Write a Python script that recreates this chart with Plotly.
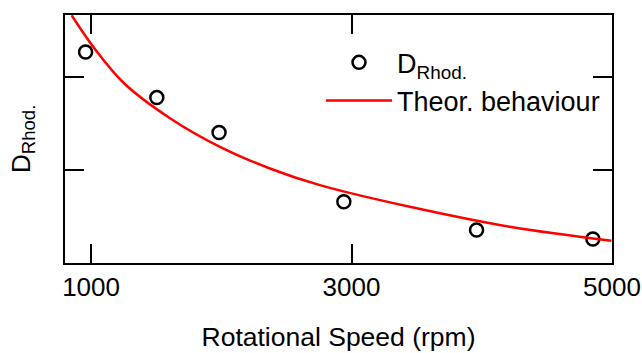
import plotly.graph_objects as go

# Measured data (rotational speed in rpm, D_Rhod. in arbitrary units)
speed_meas = [958, 1505, 1983, 2941, 3960, 4853]
d_meas = [2.265, 1.776, 1.401, 0.657, 0.354, 0.257]

# Theoretical behaviour curve
speed_theo = [851, 1023, 1253, 1606, 1990, 2373, 2757, 3448, 4215, 4996]
d_theo = [2.66, 2.31, 1.93, 1.555, 1.247, 1.015, 0.836, 0.603, 0.389, 0.239]

x_ticks = [1000, 3000, 5000]
x_ticklabels = ["1000", "3000", "5000"]
y_ticks = [0, 1, 2]

FONT = "Liberation Sans, Arial, sans-serif"

fig = go.Figure()
fig.add_trace(go.Scatter(
    x=speed_meas, y=d_meas, mode="markers", name="D<sub>Rhod.</sub>",
    marker=dict(symbol="circle-open", size=13, color="black",
                line=dict(width=2.5, color="black")),
))
fig.add_trace(go.Scatter(
    x=speed_theo, y=d_theo, mode="lines", name="Theor. behaviour",
    line=dict(color="#ff0000", width=2.5, shape="spline", smoothing=1),
))

fig.update_layout(
    width=642, height=353,
    margin=dict(l=65, r=30, t=15, b=90),
    paper_bgcolor="white", plot_bgcolor="white",
    font=dict(family=FONT, size=26, color="black"),
    showlegend=True,
    legend=dict(x=0.468, y=0.906, xanchor="left", yanchor="top",
                bgcolor="rgba(0,0,0,0)", font=dict(size=27),
                itemwidth=66, tracegroupgap=0),
)
fig.update_xaxes(
    range=[800, 5000], tickvals=x_ticks, ticktext=x_ticklabels,
    ticks="inside", ticklen=19, tickwidth=2, tickcolor="black",
    showline=True, linewidth=2, linecolor="black", mirror="allticks",
    showgrid=False, zeroline=False, automargin=False,
    title=dict(text="Rotational Speed (rpm)", standoff=26, font=dict(size=26.5)),
    tickfont=dict(size=26),
)
fig.update_yaxes(
    range=[0, 2.663], tickvals=y_ticks, showticklabels=False,
    ticks="inside", ticklen=19, tickwidth=2, tickcolor="black",
    showline=True, linewidth=2, linecolor="black", mirror="allticks",
    showgrid=False, zeroline=False, automargin=False,
    title=dict(text="D<sub>Rhod.</sub>", standoff=25, font=dict(size=26.5)),
)

fig.write_html("out.html")
